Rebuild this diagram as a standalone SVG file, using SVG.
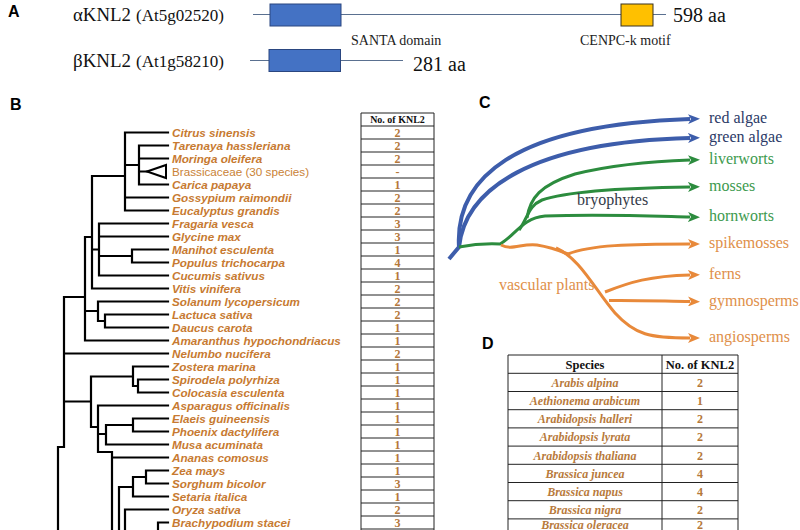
<svg xmlns="http://www.w3.org/2000/svg" width="800" height="530" viewBox="0 0 800 530">
<style>
.plabel{font-family:"Liberation Sans",Arial,sans-serif;font-weight:bold;font-size:16px;fill:#000}
.ser{font-family:"Liberation Serif","Times New Roman",serif}
.sp{font-family:"Liberation Sans",Arial,sans-serif;font-weight:bold;font-style:italic;font-size:11.7px;fill:#c77a31}
.tree{fill:none;stroke:#000;stroke-width:2.2;stroke-linecap:square}
.tbl{fill:none;stroke:#222;stroke-width:1}
.tv{font-family:"Liberation Serif","Times New Roman",serif;font-weight:bold;font-size:12px;fill:#b5783a;text-anchor:middle}
.dsp{font-family:"Liberation Serif","Times New Roman",serif;font-weight:bold;font-style:italic;font-size:12px;fill:#b87a3c;text-anchor:middle}
.dh{font-family:"Liberation Serif","Times New Roman",serif;font-weight:bold;font-size:12.5px;fill:#111;text-anchor:middle}
.cl{font-family:"Liberation Serif","Times New Roman",serif;font-size:16px}
.blue{fill:none;stroke:#3d5dab;stroke-width:4}
.green{fill:none;stroke:#2c8c3e;stroke-width:3}
.orange{fill:none;stroke:#e8893a;stroke-width:3}
</style>
<defs>
<marker id="ab" viewBox="0 0 12 10" markerWidth="12" markerHeight="10" refX="2" refY="5" orient="auto" markerUnits="userSpaceOnUse"><path d="M0,0 L12,5 L0,10 L3,5 z" fill="#3d5dab"/></marker>
<marker id="ag" viewBox="0 0 12 10" markerWidth="12" markerHeight="10" refX="2" refY="5" orient="auto" markerUnits="userSpaceOnUse"><path d="M0,0 L12,5 L0,10 L3,5 z" fill="#2c8c3e"/></marker>
<marker id="ao" viewBox="0 0 12 10" markerWidth="12" markerHeight="10" refX="2" refY="5" orient="auto" markerUnits="userSpaceOnUse"><path d="M0,0 L12,5 L0,10 L3,5 z" fill="#e8893a"/></marker>
</defs>
<rect width="800" height="530" fill="#fff"/>

<!-- Panel A -->
<g id="panelA">
<text class="plabel" x="8" y="17">A</text>
<text class="ser" x="73" y="21" fill="#111"><tspan font-size="18" textLength="58" lengthAdjust="spacingAndGlyphs">αKNL2</tspan><tspan font-size="16" dx="5" textLength="88" lengthAdjust="spacingAndGlyphs">(At5g02520)</tspan></text>
<text class="ser" x="73" y="67" fill="#111"><tspan font-size="18" textLength="58" lengthAdjust="spacingAndGlyphs">βKNL2</tspan><tspan font-size="16" dx="5" textLength="88" lengthAdjust="spacingAndGlyphs">(At1g58210)</tspan></text>
<g id="alphaProtein">
<line x1="253" y1="14.5" x2="666" y2="14.5" stroke="#5a7090" stroke-width="1.2"/>
<rect x="270" y="4" width="71" height="22" fill="#4472c4" stroke="#2a4680" stroke-width="1"/>
<rect x="621" y="4" width="32" height="22" fill="#ffc000" stroke="#3a3320" stroke-width="1"/>
<text class="ser" x="673" y="22" font-size="20" fill="#111">598 aa</text>
</g>
<text class="ser" x="351" y="45" font-size="14" fill="#222">SANTA domain</text>
<text class="ser" x="580" y="45" font-size="14" fill="#222">CENPC-k motif</text>
<g id="betaProtein">
<line x1="250" y1="60.5" x2="403" y2="60.5" stroke="#5a7090" stroke-width="1.2"/>
<rect x="269" y="49.5" width="71.5" height="22" fill="#4472c4" stroke="#2a4680" stroke-width="1"/>
<text class="ser" x="413" y="71" font-size="20" fill="#111">281 aa</text>
</g>
</g>

<!-- Panel B -->
<g id="panelB">
<text class="plabel" x="10" y="110">B</text>
<g id="tree">
<path class="tree" d="M125,132.5H168 M125,132.5V210.5 M125,197.5H168 M125,210.5H168 M125,165H139 M139,145.5V184.5 M139,145.5H168 M139,158.5H168 M139,184.5H168 M139,171.5H147
M92,176H125 M92,176V288.5 M92,288.5H168 M92,249.5H99 M99,223.5V275.5 M99,223.5H168 M99,236.5H168 M99,275.5H168 M99,256H132 M132,249.5V262.5 M132,249.5H168 M132,262.5H168
M85,237H92 M85,237V340.5 M85,340.5H168 M85,311H98 M98,301.5V321 M98,301.5H168 M98,321H105 M105,314.5V327.5 M105,314.5H168 M105,327.5H168
M64,297H85 M64,297V447 M64,353.5H168 M64,401.5H91 M91,376.5V427 M91,376.5H133 M133,366.5V386 M133,366.5H168 M133,386H138 M138,379.5V392.5 M138,379.5H168 M138,392.5H168
M91,427H98 M98,405.5V452 M98,405.5H168 M98,434H106 M106,425V444.5 M106,425H133 M133,418.5V431.5 M133,418.5H168 M133,431.5H168 M106,444.5H168
M98,452H112 M112,452V531 M112,457.5H168 M119,487V531 M119,487H133 M133,477V496.5 M133,477H146 M146,470.5V483.5 M146,470.5H168 M146,483.5H168 M133,496.5H168
M125,509.5H168 M125,509.5V531 M158,522.5H168 M158,522.5V531 M58,447H64 M58,447V531"/>
<path d="M147,171.5 L166,165 L166,178 Z" fill="#fff" stroke="#000" stroke-width="2" stroke-linejoin="miter"/>
</g>
<g id="speciesLabels">
<text class="sp" x="172" y="136.5">Citrus sinensis</text>
<text class="sp" x="172" y="149.5">Tarenaya hassleriana</text>
<text class="sp" x="172" y="162.5">Moringa oleifera</text>
<text x="172" y="175.5" font-family="Liberation Sans,Arial,sans-serif" font-size="11.7" fill="#c98236">Brassicaceae (30 species)</text>
<text class="sp" x="172" y="188.5">Carica papaya</text>
<text class="sp" x="172" y="201.5">Gossypium raimondii</text>
<text class="sp" x="172" y="214.5">Eucalyptus grandis</text>
<text class="sp" x="172" y="227.5">Fragaria vesca</text>
<text class="sp" x="172" y="240.5">Glycine max</text>
<text class="sp" x="172" y="253.5">Manihot esculenta</text>
<text class="sp" x="172" y="266.5">Populus trichocarpa</text>
<text class="sp" x="172" y="279.5">Cucumis sativus</text>
<text class="sp" x="172" y="292.5">Vitis vinifera</text>
<text class="sp" x="172" y="305.5">Solanum lycopersicum</text>
<text class="sp" x="172" y="318.5">Lactuca sativa</text>
<text class="sp" x="172" y="331.5">Daucus carota</text>
<text class="sp" x="172" y="344.5">Amaranthus hypochondriacus</text>
<text class="sp" x="172" y="357.5">Nelumbo nucifera</text>
<text class="sp" x="172" y="370.5">Zostera marina</text>
<text class="sp" x="172" y="383.5">Spirodela polyrhiza</text>
<text class="sp" x="172" y="396.5">Colocasia esculenta</text>
<text class="sp" x="172" y="409.5">Asparagus officinalis</text>
<text class="sp" x="172" y="422.5">Elaeis guineensis</text>
<text class="sp" x="172" y="435.5">Phoenix dactylifera</text>
<text class="sp" x="172" y="448.5">Musa acuminata</text>
<text class="sp" x="172" y="461.5">Ananas comosus</text>
<text class="sp" x="172" y="474.5">Zea mays</text>
<text class="sp" x="172" y="487.5">Sorghum bicolor</text>
<text class="sp" x="172" y="500.5">Setaria italica</text>
<text class="sp" x="172" y="513.5">Oryza sativa</text>
<text class="sp" x="172" y="526.5">Brachypodium stacei</text>
</g>
<g id="tableB">
<path class="tbl" d="M361,113H434V531H361Z M361,126H434 M361,139H434 M361,152H434 M361,165H434 M361,178H434 M361,191H434 M361,204H434 M361,217H434 M361,230H434 M361,243H434 M361,256H434 M361,269H434 M361,282H434 M361,295H434 M361,308H434 M361,321H434 M361,334H434 M361,347H434 M361,360H434 M361,373H434 M361,386H434 M361,399H434 M361,412H434 M361,425H434 M361,438H434 M361,451H434 M361,464H434 M361,477H434 M361,490H434 M361,503H434 M361,516H434 M361,529H434"/>
<text x="397.5" y="123" font-family="Liberation Serif,Times New Roman,serif" font-weight="bold" font-size="10" fill="#111" text-anchor="middle">No. of KNL2</text>
<text class="tv" x="397.5" y="137">2</text>
<text class="tv" x="397.5" y="150">2</text>
<text class="tv" x="397.5" y="163">2</text>
<text class="tv" x="397.5" y="176">-</text>
<text class="tv" x="397.5" y="189">1</text>
<text class="tv" x="397.5" y="202">2</text>
<text class="tv" x="397.5" y="215">2</text>
<text class="tv" x="397.5" y="228">3</text>
<text class="tv" x="397.5" y="241">3</text>
<text class="tv" x="397.5" y="254">1</text>
<text class="tv" x="397.5" y="267">4</text>
<text class="tv" x="397.5" y="280">1</text>
<text class="tv" x="397.5" y="293">2</text>
<text class="tv" x="397.5" y="306">2</text>
<text class="tv" x="397.5" y="319">2</text>
<text class="tv" x="397.5" y="332">1</text>
<text class="tv" x="397.5" y="345">1</text>
<text class="tv" x="397.5" y="358">2</text>
<text class="tv" x="397.5" y="371">1</text>
<text class="tv" x="397.5" y="384">1</text>
<text class="tv" x="397.5" y="397">1</text>
<text class="tv" x="397.5" y="410">1</text>
<text class="tv" x="397.5" y="423">1</text>
<text class="tv" x="397.5" y="436">1</text>
<text class="tv" x="397.5" y="449">1</text>
<text class="tv" x="397.5" y="462">1</text>
<text class="tv" x="397.5" y="475">1</text>
<text class="tv" x="397.5" y="488">3</text>
<text class="tv" x="397.5" y="501">1</text>
<text class="tv" x="397.5" y="514">2</text>
<text class="tv" x="397.5" y="527">3</text>
</g>
</g>

<!-- Panel C -->
<g id="panelC">
<text class="plabel" x="479" y="108">C</text>
<g id="connectorsC">
<path class="blue" d="M449,259 L459,247 C455,180 510,125 690,119" marker-end="url(#ab)"/>
<path class="blue" d="M459,247 C465,190 530,142 690,138" marker-end="url(#ab)"/>
<path class="green" d="M459,247 Q480,243 500,244 C515,236 522,218 545,216 C600,214 650,216 690,217" marker-end="url(#ag)"/>
<path class="green" d="M519,230 C528,218 528,206 542,200 C565,192 620,188 690,187" marker-end="url(#ag)"/>
<path class="green" d="M527,218 C530,198 540,185 575,174 C620,163 660,161 690,160" marker-end="url(#ag)"/>
<path class="orange" d="M501,245 C512,251 522,243 537,245 C550,247 558,250 568,254 C590,245 630,244 690,244" marker-end="url(#ao)"/>
<path class="orange" d="M556,248 C580,258 595,290 615,313 C635,335 650,338 690,338" marker-end="url(#ao)"/>
<path class="orange" d="M605,292 C630,282 650,276 690,275" marker-end="url(#ao)"/>
<path class="orange" d="M609,300.5 C630,300 660,301 690,301.5" marker-end="url(#ao)"/>
</g>
<g id="labelsC" class="cl">
<text x="709" y="123" fill="#2b3a67">red algae</text>
<text x="709" y="142" fill="#2b3a67">green algae</text>
<text x="709" y="164" fill="#3d9a4e">liverworts</text>
<text x="709" y="191" fill="#3d9a4e">mosses</text>
<text x="709" y="221" fill="#3d9a4e">hornworts</text>
<text x="709" y="248" fill="#e0904a">spikemosses</text>
<text x="709" y="279" fill="#e0904a">ferns</text>
<text x="709" y="306" fill="#e0904a">gymnosperms</text>
<text x="709" y="342" fill="#e0904a">angiosperms</text>
<text x="577" y="205" fill="#333a48">bryophytes</text>
<text x="499" y="290" fill="#e0904a">vascular plants</text>
</g>
</g>

<!-- Panel D -->
<g id="panelD">
<text class="plabel" x="482" y="349">D</text>
<path class="tbl" d="M508,355H738V540H508Z M662,355V540 M508,373.3H738 M508,391.5H738 M508,409.7H738 M508,427.9H738 M508,446.1H738 M508,464.3H738 M508,482.5H738 M508,500.7H738 M508,518.9H738" stroke-width="1.3"/>
<text class="dh" x="585" y="368.5">Species</text>
<text class="dh" x="700" y="368.5">No. of KNL2</text>
<text class="dsp" x="585" y="386.7">Arabis alpina</text><text class="tv" x="700" y="386.7">2</text>
<text class="dsp" x="585" y="404.9">Aethionema arabicum</text><text class="tv" x="700" y="404.9">1</text>
<text class="dsp" x="585" y="423.1">Arabidopsis halleri</text><text class="tv" x="700" y="423.1">2</text>
<text class="dsp" x="585" y="441.3">Arabidopsis lyrata</text><text class="tv" x="700" y="441.3">2</text>
<text class="dsp" x="585" y="459.5">Arabidopsis thaliana</text><text class="tv" x="700" y="459.5">2</text>
<text class="dsp" x="585" y="477.7">Brassica juncea</text><text class="tv" x="700" y="477.7">4</text>
<text class="dsp" x="585" y="495.9">Brassica napus</text><text class="tv" x="700" y="495.9">4</text>
<text class="dsp" x="585" y="514.1">Brassica nigra</text><text class="tv" x="700" y="514.1">2</text>
<text class="dsp" x="585" y="528.5" font-size="11.5">Brassica oleracea</text><text class="tv" x="700" y="528.5" font-size="11.5">2</text>
</g>
</svg>
